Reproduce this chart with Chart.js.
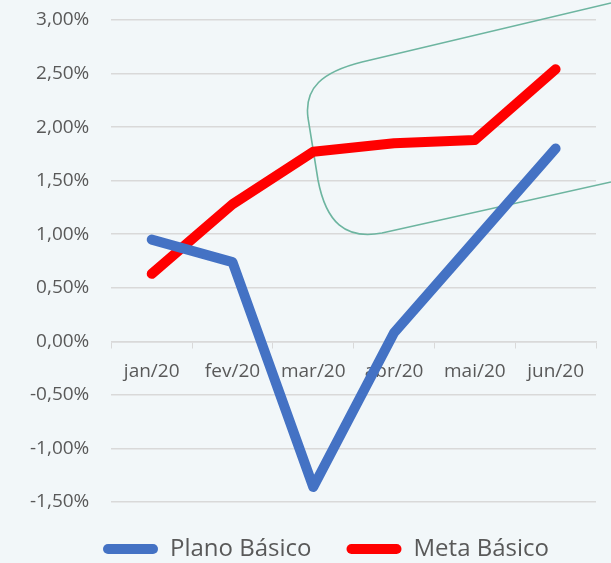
<!DOCTYPE html>
<html>
<head>
<meta charset="utf-8">
<script src="https://cdn.jsdelivr.net/npm/chart.js@4"></script>
<style>
  html, body { margin: 0; padding: 0; background: #F2F7F9; }
  #wrap { width: 611px; height: 563px; }
</style>
</head>
<body>
<div id="wrap"><canvas id="grafico"></canvas></div>
<script>
const meses = ['jan/20', 'fev/20', 'mar/20', 'abr/20', 'mai/20', 'jun/20'];
const planoBasico = [0.95, 0.74, -1.36, 0.08, 0.94, 1.80];
const metaBasico = [0.63, 1.28, 1.77, 1.85, 1.88, 2.54];
const yMin = -1.5;
const yMax = 3.0;

const corTexto = '#595959';
const corGrade = '#D9D9D9';

// forma decorativa (contorno verde) atras das linhas
const formaVerde = {
    id: 'formaVerde',
    beforeDatasetsDraw(chart) {
        const ctx = chart.ctx;
        ctx.save();
        ctx.strokeStyle = '#6DB5A0';
        ctx.lineWidth = 1.6;
        ctx.beginPath();
        ctx.moveTo(611, 3);
        ctx.lineTo(362, 62);
        ctx.bezierCurveTo(322, 72, 304, 88, 308, 118);
        ctx.lineTo(318, 180);
        ctx.bezierCurveTo(326, 222, 345, 240, 382, 233);
        ctx.lineTo(611, 182);
        ctx.stroke();
        ctx.restore();
    }
};

// empurra a legenda um pouco para a direita
const moveLegenda = {
    id: 'moveLegenda',
    afterLayout(chart) {
        chart.legend.left += 24;
        chart.legend.right += 24;
    }
};

const fmt = (v) => v.toFixed(2).replace('.', ',') + '%';

const grafico = new Chart(document.getElementById('grafico'), {
    type: 'line',
    data: {
        labels: meses,
        datasets: [{
            label: 'Plano Básico',
            data: planoBasico,
            borderColor: '#4472C4',
            backgroundColor: '#4472C4',
            borderWidth: 10,
            borderCapStyle: 'round',
            borderJoinStyle: 'round',
            pointRadius: 0,
            tension: 0
        }, {
            label: 'Meta Básico',
            data: metaBasico,
            borderColor: '#FF0000',
            backgroundColor: '#FF0000',
            borderWidth: 10,
            borderCapStyle: 'round',
            borderJoinStyle: 'round',
            pointRadius: 0,
            tension: 0
        }]
    },
    options: {
        responsive: true,
        maintainAspectRatio: false,
        animation: false,
        layout: { padding: { top: 20, right: 15, left: 8, bottom: -8 } },
        plugins: {
            tooltip: { enabled: false },
            legend: {
                position: 'bottom',
                labels: {
                    color: corTexto,
                    font: { family: 'Open Sans', size: 24 },
                    boxWidth: 55,
                    boxHeight: 10,
                    useBorderRadius: true,
                    borderRadius: 5,
                    padding: 35,
                    generateLabels(chart) {
                        const itens = Chart.defaults.plugins.legend.labels.generateLabels(chart);
                        itens.forEach(i => { i.lineWidth = 0; });
                        return itens;
                    }
                }
            }
        },
        scales: {
            x: {
                position: { y: 0 },
                offset: true,
                grid: {
                    offset: true,
                    drawOnChartArea: false,
                    drawTicks: true,
                    tickLength: 6,
                    color: corGrade
                },
                border: { color: corGrade, width: 1.5 },
                ticks: {
                    color: corTexto,
                    font: { family: 'Open Sans', size: 19 },
                    padding: 13,
                    maxRotation: 0,
                    autoSkip: false
                }
            },
            y: {
                min: yMin,
                max: yMax,
                grid: { color: corGrade, lineWidth: 1.5, drawTicks: false },
                border: { display: false },
                afterFit(s) {
                    s.paddingTop = 0;
                    s.paddingBottom = 0;
                },
                ticks: {
                    stepSize: 0.5,
                    color: corTexto,
                    font: { family: 'Open Sans', size: 19 },
                    padding: 22,
                    callback: (v) => fmt(v)
                }
            }
        }
    },
    plugins: [formaVerde, moveLegenda]
});
</script>
</body>
</html>
